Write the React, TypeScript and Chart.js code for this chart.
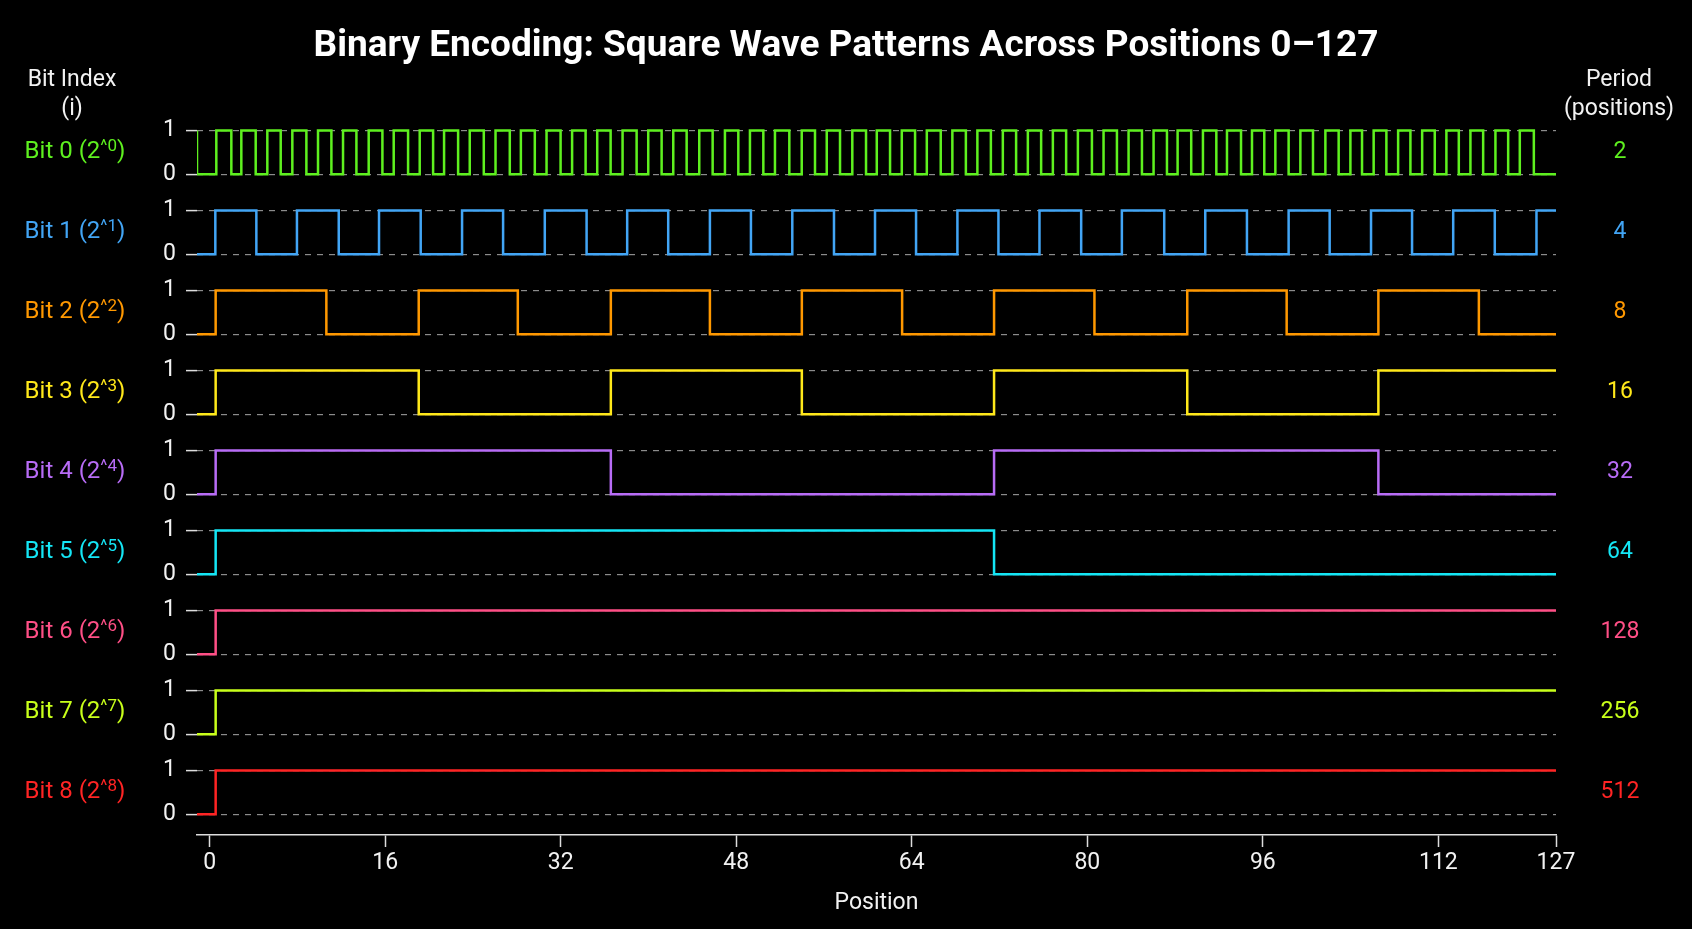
import React, { useEffect, useRef } from 'react';
import { Chart, registerables } from 'chart.js';

Chart.register(...registerables);

const TITLE = 'Binary Encoding: Square Wave Patterns Across Positions 0–127';
const X_TITLE = 'Position';
const LEFT_HEADER = ['Bit Index', '(i)'];
const RIGHT_HEADER = ['Period', '(positions)'];

const X_START = -1.15;
const X_END = 122.72;
const xTickValues = [0, 16, 32, 48, 64, 80, 96, 112, 122.72];
const xTickLabels = ['0', '16', '32', '48', '64', '80', '96', '112', '127'];

const bitNames = ['Bit 0', 'Bit 1', 'Bit 2', 'Bit 3', 'Bit 4', 'Bit 5', 'Bit 6', 'Bit 7', 'Bit 8'];
const bitExponents = ['0', '1', '2', '3', '4', '5', '6', '7', '8'];
const periods = ['2', '4', '8', '16', '32', '64', '128', '256', '512'];
const colors = ['#5ef01f', '#42a5f5', '#ff9800', '#ffe81a', '#b86cf6', '#14e6f5', '#ff4f86', '#c8ff1a', '#ff2424'];
const startValues = [1, 0, 0, 0, 0, 0, 0, 0, 0];

// positions where each bit toggles its value
const bit0Toggles = [-1.15, 0.61, 1.98, 2.89, 4.2, 5.26, 6.48, 7.54, 8.82, 9.88, 11.1, 12.16, 13.38, 14.5, 15.75, 16.78, 18.09, 19.15, 20.37, 21.37, 22.65, 23.71, 24.99, 26.06, 27.36, 28.37, 29.64, 30.71, 31.99, 33.04, 34.27, 35.33, 36.55, 37.64, 38.92, 39.98, 41.2, 42.26, 43.48, 44.63, 45.85, 46.97, 48.19, 49.25, 50.47, 51.53, 52.84, 53.97, 55.18, 56.25, 57.46, 58.58, 59.83, 60.81, 62.02, 63.09, 64.3, 65.37, 66.64, 67.7, 68.93, 69.98, 71.21, 72.3, 73.51, 74.58, 75.79, 76.86, 78.07, 79.14, 80.42, 81.48, 82.7, 83.76, 84.98, 86.04, 87.26, 88.23, 89.47, 90.54, 91.76, 92.73, 94.01, 95.01, 96.13, 97.14, 98.35, 99.42, 100.57, 101.7, 102.91, 103.98, 105.04, 106.1, 107.26, 108.33, 109.45, 110.52, 111.67, 112.73, 113.86, 114.92, 116.08, 117.2, 118.36, 119.42, 120.7];
const bit1Toggles = [0.52, 4.26, 7.96, 11.77, 15.44, 19.24, 23.01, 26.75, 30.55, 34.36, 38.06, 41.8, 45.6, 49.34, 53.11, 56.91, 60.65, 64.39, 68.16, 71.9, 75.64, 79.44, 83.15, 87.01, 90.75, 94.55, 98.35, 102.09, 105.86, 109.6, 113.35, 117.14, 120.94];
const bit2Toggles = [0.55, 10.64, 19.06, 28.09, 36.57, 45.6, 53.98, 63.12, 71.5, 80.65, 89.11, 98.17, 106.53, 115.69];
const bit3Toggles = [0.55, 19.06, 36.57, 53.98, 71.5, 89.11, 106.53];
const bit4Toggles = [0.55, 36.57, 71.5, 106.53];
const bit5Toggles = [0.55, 71.5];
const bit6Toggles = [0.55];
const bit7Toggles = [0.55];
const bit8Toggles = [0.55];
const toggles = [bit0Toggles, bit1Toggles, bit2Toggles, bit3Toggles, bit4Toggles, bit5Toggles, bit6Toggles, bit7Toggles, bit8Toggles];

const FONT = 'Roboto';

function buildPoints(start: number, tg: number[]) {
  let v = start;
  const pts: { x: number; y: number }[] = [{ x: X_START, y: v }];
  for (const t of tg) {
    v = 1 - v;
    pts.push({ x: t, y: v });
  }
  pts.push({ x: X_END, y: v });
  return pts;
}

const sideLabels = {
  id: 'sideLabels',
  afterDraw(chart: any) {
    const ctx = chart.ctx as CanvasRenderingContext2D;
    ctx.save();
    ctx.textBaseline = 'middle';
    ctx.textAlign = 'center';
    ctx.fillStyle = '#f2f2f2';
    ctx.font = `23px ${FONT}`;
    ctx.fillText(LEFT_HEADER[0], 72, 80);
    ctx.fillText(LEFT_HEADER[1], 72, 109);
    ctx.fillText(RIGHT_HEADER[0], 1619, 80);
    ctx.fillText(RIGHT_HEADER[1], 1619, 109);
    for (let i = 0; i < bitNames.length; i++) {
      const sc = chart.scales['y' + i];
      const y = sc.getPixelForValue(0.5);
      const main = `${bitNames[i]} (2`;
      const sup = '^' + bitExponents[i];
      const close = ')';
      ctx.font = `24px ${FONT}`;
      const w1 = ctx.measureText(main).width;
      const w3 = ctx.measureText(close).width;
      ctx.font = `17px ${FONT}`;
      const w2 = ctx.measureText(sup).width;
      const x0 = 75 - (w1 + w2 + w3) / 2;
      ctx.fillStyle = colors[i];
      ctx.textAlign = 'left';
      ctx.font = `24px ${FONT}`;
      ctx.fillText(main, x0, y);
      ctx.fillText(close, x0 + w1 + w2, y);
      ctx.font = `17px ${FONT}`;
      ctx.fillText(sup, x0 + w1, y - 6);
      ctx.textAlign = 'center';
      ctx.font = `23px ${FONT}`;
      ctx.fillText(periods[i], 1620, y);
    }
    ctx.restore();
  },
};

export default function App() {
  const ref = useRef<HTMLCanvasElement | null>(null);
  useEffect(() => {
    document.body.style.margin = '0';
    document.body.style.background = '#000';
    const canvas = ref.current;
    if (!canvas) return;

    const scales: any = {
      x: {
        type: 'linear',
        min: X_START,
        max: X_END,
        afterBuildTicks: (s: any) => {
          s.ticks = xTickValues.map((v) => ({ value: v }));
        },
        afterFit: (s: any) => {
          s.height = 94;
        },
        ticks: {
          color: '#f2f2f2',
          font: { family: FONT, size: 23 },
          padding: 2,
          maxRotation: 0,
          autoSkip: false,
          callback: (v: any, idx: number) => xTickLabels[idx],
        },
        grid: {
          display: true,
          drawOnChartArea: false,
          drawTicks: true,
          tickLength: 12,
          tickColor: '#dddddd',
          tickWidth: 1.5,
        },
        border: { display: true, color: '#dddddd', width: 1.5 },
        title: {
          display: true,
          text: X_TITLE,
          color: '#f2f2f2',
          font: { family: FONT, size: 23 },
          padding: { top: 0, bottom: 12 },
        },
      },
      // empty right-hand axis that only reserves room for the period column
      periodAxis: {
        type: 'linear',
        position: 'right',
        display: true,
        min: 0,
        max: 1,
        ticks: { display: false },
        grid: { display: false, drawTicks: false },
        border: { display: false },
        afterFit: (s: any) => {
          s.width = 136;
        },
      },
    };

    // stacked axes: later-added boxes are placed on top, so add bit 8 first
    for (let i = bitNames.length - 1; i >= 0; i--) {
      scales['y' + i] = {
        type: 'linear',
        position: 'left',
        stack: 'bits',
        stackWeight: 1,
        min: -0.47,
        max: 1.35,
        afterBuildTicks: (s: any) => {
          s.ticks = [{ value: 0 }, { value: 1 }];
        },
        afterFit: (s: any) => {
          s.width = 197;
        },
        ticks: {
          color: '#f2f2f2',
          font: { family: FONT, size: 23 },
          padding: 10,
          callback: (v: any) => String(v),
        },
        grid: {
          color: '#8c8c8c',
          lineWidth: 1.2,
          drawTicks: true,
          tickLength: 11,
          tickColor: '#dddddd',
          tickWidth: 1.5,
        },
        border: { display: false, dash: [6, 6] },
      };
    }

    const datasets = bitNames.map((name, i) => ({
      label: name,
      data: buildPoints(startValues[i], toggles[i]),
      borderColor: colors[i],
      backgroundColor: colors[i],
      borderWidth: 2.5,
      pointRadius: 0,
      stepped: 'before' as const,
      fill: false,
      yAxisID: 'y' + i,
      xAxisID: 'x',
    }));

    const chart = new Chart(canvas, {
      type: 'line',
      data: { datasets },
      options: {
        responsive: false,
        animation: false,
        layout: { padding: { left: 0, right: 0, top: 0, bottom: 0 } },
        plugins: {
          legend: { display: false },
          tooltip: { enabled: false },
          title: {
            display: true,
            text: TITLE,
            color: '#ffffff',
            font: { family: FONT, size: 37, weight: 'bold' },
            padding: { top: 25, bottom: 45.6 },
          },
        },
        scales,
      },
      plugins: [sideLabels],
    });
    return () => chart.destroy();
  }, []);

  return (
    <div style={{ width: 1692, height: 929, background: '#000' }}>
      <canvas ref={ref} width={1692} height={929} style={{ display: 'block' }} />
    </div>
  );
}
